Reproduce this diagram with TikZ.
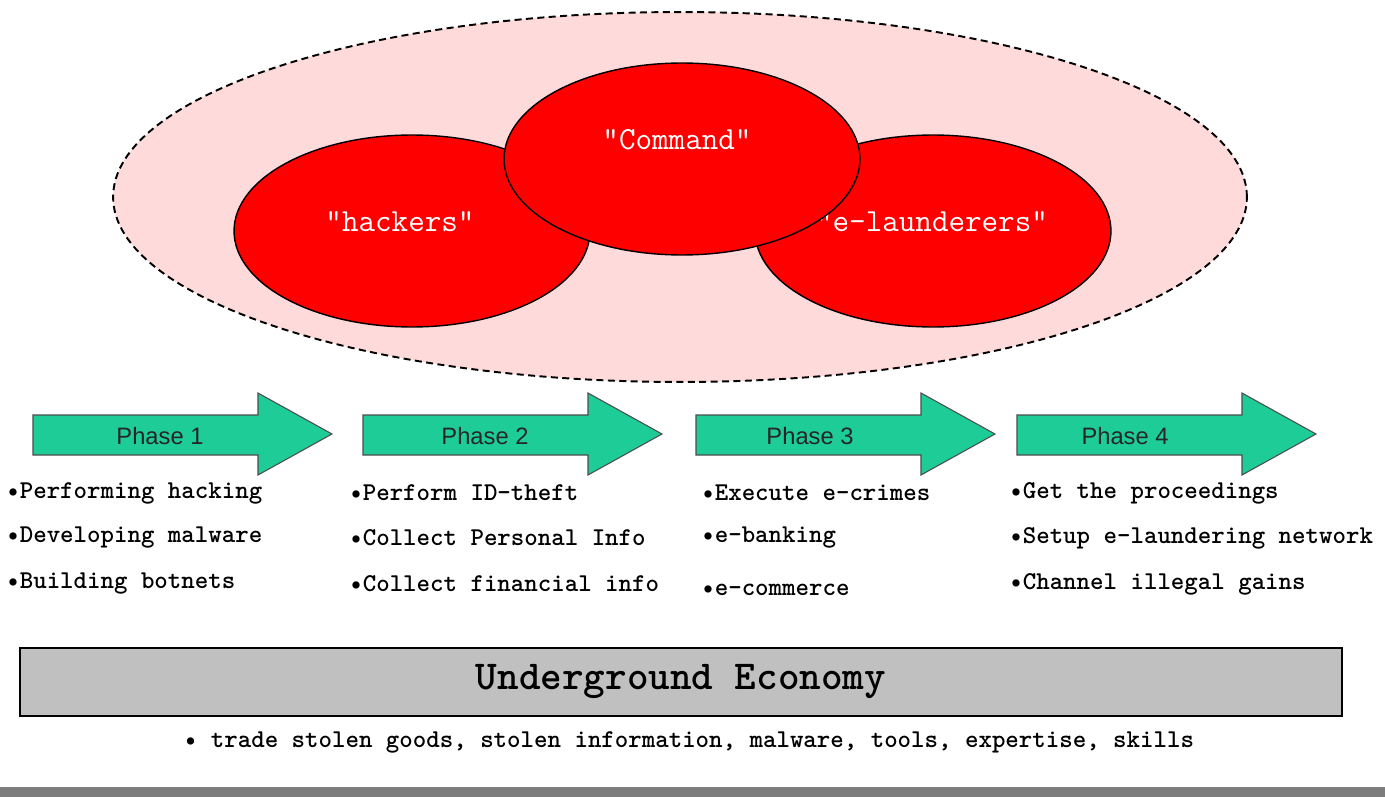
\documentclass[tikz,border=0pt]{standalone}
\usepackage{fontspec}
\setmainfont{Liberation Sans}
\usepackage{tikz}
\usetikzlibrary{shapes.geometric}

\definecolor{groupbg}{RGB}{255,218,218}
\definecolor{cellred}{RGB}{255,0,0}
\definecolor{phasegreen}{RGB}{30,204,152}
\definecolor{boxgray}{RGB}{192,192,192}
\definecolor{bargray}{RGB}{125,125,125}

\begin{document}
\begin{tikzpicture}[x=0.02cm,y=-0.02cm]
\tikzstyle{cell}=[ellipse, draw, fill=cellred, line width=0.8pt, inner sep=0pt, minimum width=7.12cm, minimum height=3.84cm]
\tikzstyle{cell label}=[text=white, font=\ttfamily\fontsize{18.3}{20}\selectfont, inner sep=0pt]
\tikzstyle{phase label}=[font=\fontsize{13.5}{15}\selectfont, text=black!85]
\tikzstyle{item}=[anchor=west, inner sep=0pt, font=\ttfamily\bfseries\fontsize{14.6}{16}\selectfont]

\useasboundingbox (0,0) rectangle (1385,797);

% the gang
\node [ellipse, draw, fill=groupbg, line width=1.1pt, dash pattern=on 4pt off 2.5pt,
	minimum width=22.68cm, minimum height=7.4cm] (group) at (680,197) {};
\node [cell] (hackers) at (412,231) {};
\node [cell label] (hackers-txt) at (400,222) {“hackers”};
\node [cell] (launder) at (933,231) {};
\node [cell label] (launder-txt) at (932,222) {“e-launderers”};
\node [cell] (command) at (682,159) {};
\node [cell label] (command-txt) at (677,140) {“Command”};

% phases
\foreach \x/\n/\t in {33/1/127,363/2/122,696/3/114,1017/4/108}{
	\draw [draw=black!70, fill=phasegreen, line width=0.6pt]
		(\x,415) -- (\x+225,415) -- (\x+225,393) -- (\x+299,434)
		-- (\x+225,475) -- (\x+225,455) -- (\x,455) -- cycle;
	\node [phase label] (phase\n) at (\x+\t,436) {Phase \n};
}

\node [item] (p1a) at (6,493) {•Performing hacking};
\node [item] (p1b) at (6,538) {•Developing malware};
\node [item] (p1c) at (6,584) {•Building botnets};

\node [item] (p2a) at (349,493) {•Perform ID-theft};
\node [item] (p2b) at (349,538) {•Collect Personal Info};
\node [item] (p2c) at (349,584) {•Collect financial info};

\node [item] (p3a) at (701,493) {•Execute e-crimes};
\node [item] (p3b) at (701,538) {•e-banking};
\node [item] (p3c) at (701,590) {•e-commerce};

\node [item] (p4a) at (1009,493) {•Get the proceedings};
\node [item] (p4b) at (1009,538) {•Setup e-laundering network};
\node [item] (p4c) at (1009,584) {•Channel illegal gains};

% economy
\node [draw, fill=boxgray, line width=1.4pt, minimum width=26.44cm, minimum height=1.36cm,
	font=\ttfamily\bfseries\fontsize{23.4}{25}\selectfont] (economy) at (681,682) {Underground Economy};
\node [inner sep=0pt, font=\ttfamily\bfseries\fontsize{14.6}{16}\selectfont] (trade) at (689,742)
	{• trade stolen goods, stolen information, malware, tools, expertise, skills};

\fill [bargray] (0,787) rectangle (1385,797);
\end{tikzpicture}
\end{document}
